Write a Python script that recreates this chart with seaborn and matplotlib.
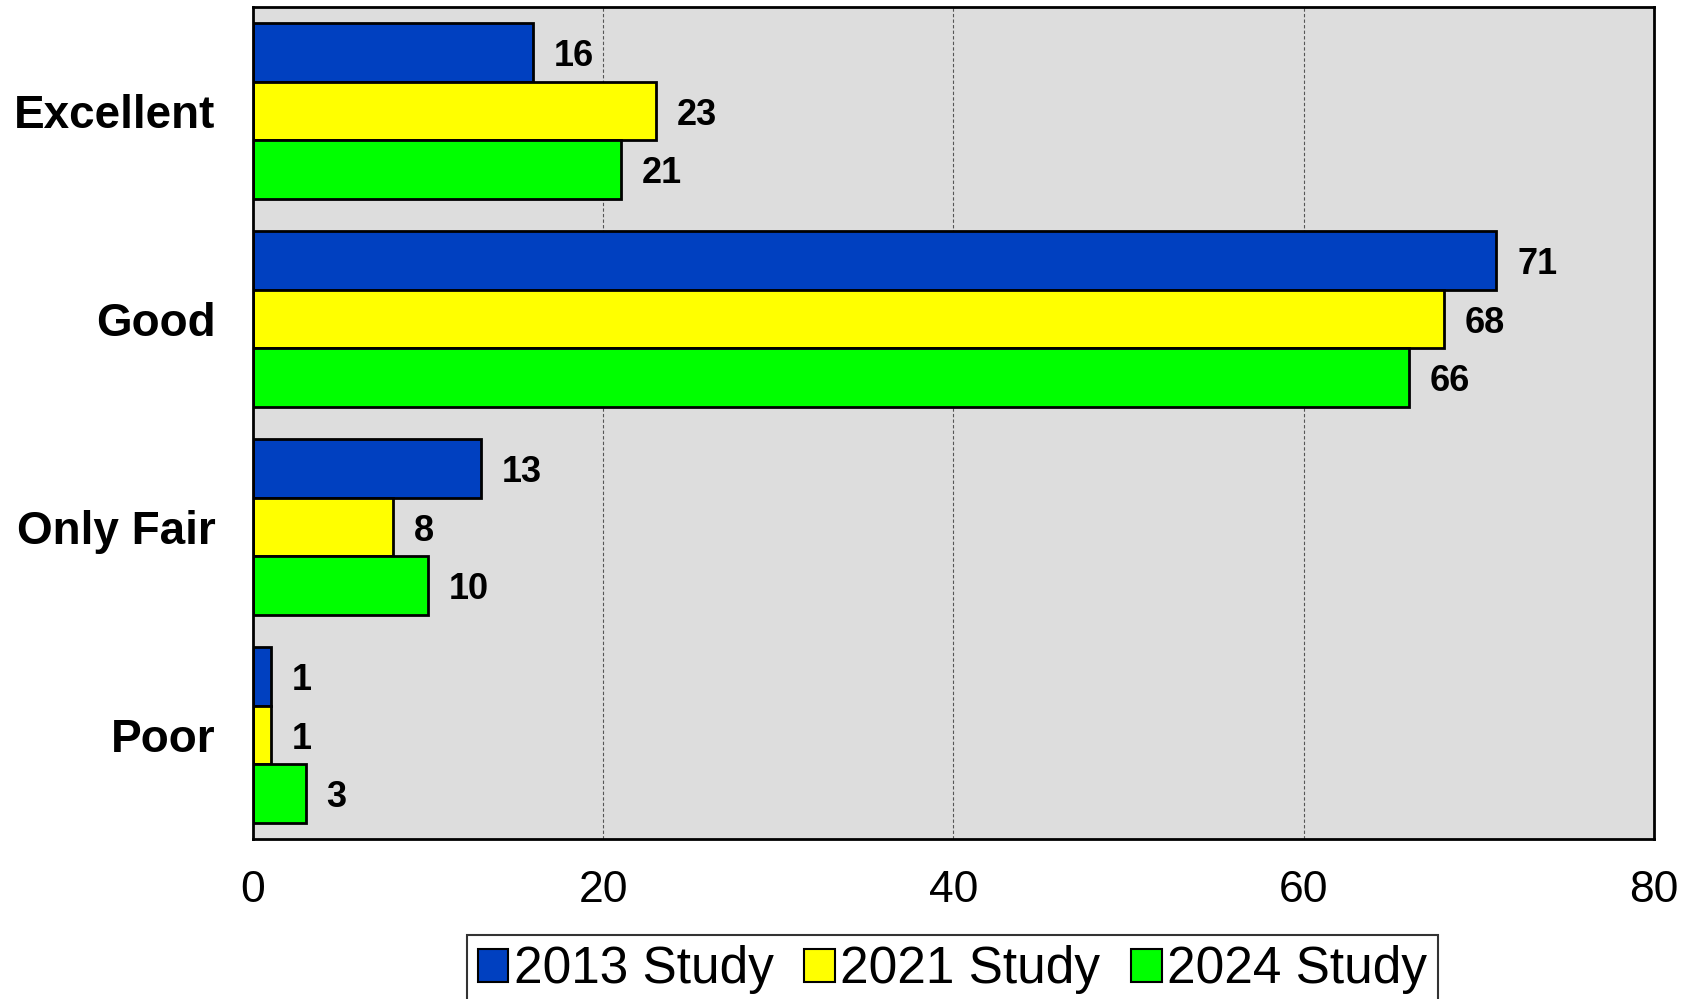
import pandas as pd
import matplotlib.pyplot as plt
import seaborn as sns
import numpy as np

categories = ['Excellent', 'Good', 'Only Fair', 'Poor']
studies = ['2013 Study', '2021 Study', '2024 Study']
vals_2013 = [16, 71, 13, 1]
vals_2021 = [23, 68, 8, 1]
vals_2024 = [21, 66, 10, 3]
colors = ['#0040C0', '#FFFF00', '#00FF00']

df = pd.DataFrame({
    'category': categories * 3,
    'study': [s for s in studies for _ in categories],
    'value': vals_2013 + vals_2021 + vals_2024,
})

sns.set_theme(style="white")
plt.rcParams['font.family'] = ['Liberation Sans', 'DejaVu Sans']
plt.rcParams['text.color'] = 'black'
plt.rcParams['xtick.color'] = 'black'
plt.rcParams['ytick.color'] = 'black'

fig = plt.figure(figsize=(16.98, 9.99), dpi=100)
ax = fig.add_axes([0.149, 0.160, 0.825, 0.833])
ax.set_facecolor('#DDDDDD')

sns.barplot(
    data=df, y='category', x='value', hue='study',
    order=categories, hue_order=studies, palette=colors,
    orient='h', width=0.844, edgecolor='black', linewidth=2,
    saturation=1, legend=False, ax=ax
)

for cont in ax.containers:
    lbls = ax.bar_label(cont, fmt='%d', padding=15, fontsize=26, fontweight='bold', color='black')
    for t in lbls:
        t.set_va('center_baseline')

ax.set_xlim(0, 80)
ax.set_xticks(np.arange(0, 81, 20))
ax.set_ylim(3.5, -0.5)
ax.set_xlabel('')
ax.set_ylabel('')
ax.xaxis.grid(True, linestyle=(0, (3, 2)), color='#555555', linewidth=0.8)
ax.yaxis.grid(False)
ax.set_axisbelow(True)
for sp in ax.spines.values():
    sp.set_color('black')
    sp.set_linewidth(2)

ax.tick_params(axis='x', length=0, pad=22, labelsize=32, labelcolor='black')
ax.tick_params(axis='y', length=0, pad=27, labelsize=33, labelcolor='black')
for t in ax.get_yticklabels():
    t.set_fontweight('bold')

handles = [plt.Rectangle((0, 0), 1, 1, facecolor=c, edgecolor='black', linewidth=1.5) for c in colors]
leg = fig.legend(
    handles, studies, loc='upper center', bbox_to_anchor=(0.561, 0.064),
    ncol=3, frameon=True, fancybox=False, edgecolor='black',
    handlelength=0.6, handleheight=0.6, handletextpad=0.1,
    columnspacing=0.6, borderpad=0.2, borderaxespad=0,
    prop={'family': ['Liberation Sans'], 'size': 37}
)
leg.get_frame().set_linewidth(1.5)

fig.savefig('out.png', dpi=100)
